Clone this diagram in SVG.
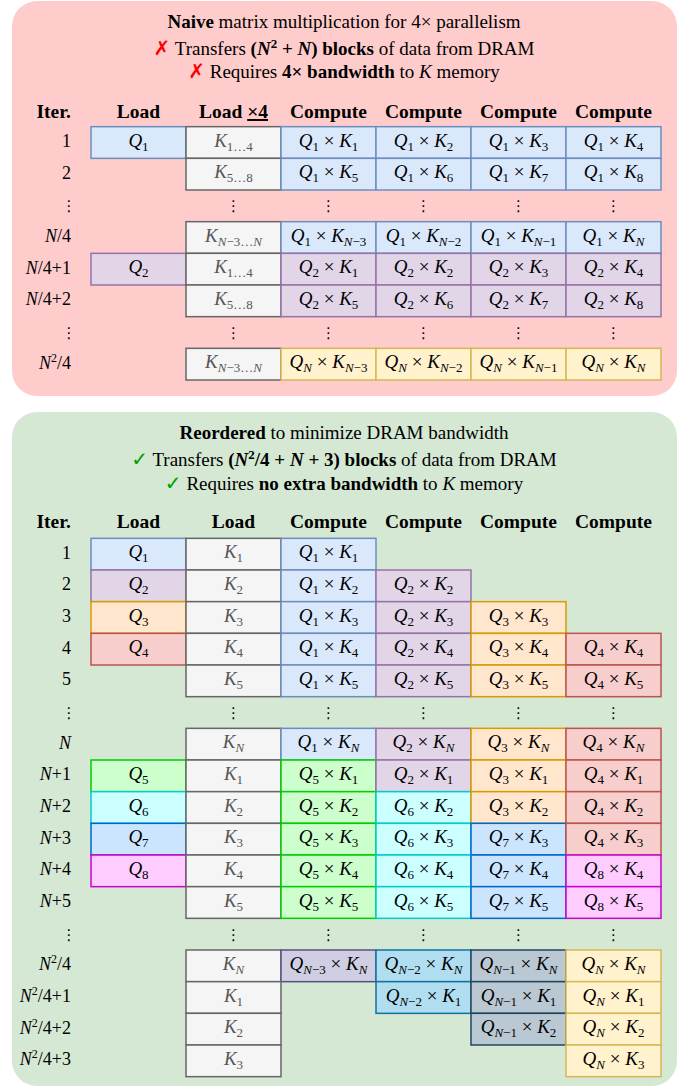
<svg xmlns="http://www.w3.org/2000/svg" width="686" height="1086" viewBox="0 0 686 1086">
<style>
rect.c{stroke-width:1.5}
.blue{fill:#dae8fc;stroke:#6c8ebf}
.pur{fill:#e1d5e7;stroke:#9673a6}
.gray{fill:#f5f5f5;stroke:#666666}
.yel{fill:#fff2cc;stroke:#d6b656}
.ora{fill:#ffe6cc;stroke:#d79b00}
.red{fill:#f8cecc;stroke:#b85450}
.grn{fill:#ccffcc;stroke:#00cc00}
.cya{fill:#ccffff;stroke:#00cccc}
.bl2{fill:#cce5ff;stroke:#0066cc}
.mag{fill:#ffccff;stroke:#cc00cc}
.lav{fill:#d0cee2;stroke:#56517e}
.sky{fill:#b1ddf0;stroke:#10739e}
.slt{fill:#bac8d3;stroke:#23445d}
text{font-family:"Liberation Serif",serif;fill:#000}
.t{font-size:19px;text-anchor:middle}
.k{fill:#555555}
.i{font-style:italic}
.s{font-size:13px}
.lb{font-size:18px;text-anchor:end}
.h{font-size:19.5px;font-weight:bold;text-anchor:middle}
.he{font-size:19.5px;font-weight:bold;text-anchor:end}
.ti{font-size:19px;text-anchor:middle}
.b{font-weight:bold}
.d{font-family:"DejaVu Sans",sans-serif;font-size:15px;text-anchor:middle;fill:#000}
.x{fill:#ff0000;font-family:"DejaVu Sans",sans-serif;font-size:20px}
.v{fill:#00a000;font-family:"DejaVu Sans",sans-serif;font-size:20px}
</style>

<!-- ===================== NAIVE PANEL ===================== -->
<g id="naive-panel">
<rect x="12" y="1" width="665" height="395" rx="25" fill="#ffcccc"/>
<text class="ti" x="344" y="28"><tspan class="b">Naive</tspan> matrix multiplication for 4× parallelism</text>
<text class="ti" x="344" y="55"><tspan class="x">✗</tspan> Transfers <tspan class="b">(<tspan class="i">N</tspan><tspan dy="-7" font-size="13">2</tspan><tspan dy="7"> + </tspan><tspan class="i">N</tspan>) blocks</tspan> of data from DRAM</text>
<text class="ti" x="344" y="78"><tspan class="x">✗</tspan> Requires <tspan class="b">4× bandwidth</tspan> to <tspan class="i">K</tspan> memory</text>
</g>

<g id="naive-header">
<text class="he" x="71" y="118">Iter.</text>
<text class="h" x="138.5" y="118">Load</text>
<text class="h" x="233.5" y="118">Load <tspan text-decoration="underline">×4</tspan></text>
<text class="h" x="328.5" y="118">Compute</text>
<text class="h" x="423.5" y="118">Compute</text>
<text class="h" x="518.5" y="118">Compute</text>
<text class="h" x="613.5" y="118">Compute</text>
</g>

<g id="naive-iter">
<text class="lb" x="71" y="147">1</text>
<text class="lb" x="71" y="178.6">2</text>
<text class="d" x="69" y="211">⋮</text>
<text class="lb" x="71" y="242"><tspan class="i">N</tspan>/4</text>
<text class="lb" x="71" y="273.6"><tspan class="i">N</tspan>/4+1</text>
<text class="lb" x="71" y="305.3"><tspan class="i">N</tspan>/4+2</text>
<text class="d" x="69" y="338">⋮</text>
<text class="lb" x="71" y="368.6"><tspan class="i">N</tspan><tspan dy="-7" font-size="12">2</tspan><tspan dy="7">/4</tspan></text>
</g>

<!-- row 1 -->
<g id="n-r1-q"><rect class="c blue" x="91" y="126.67" width="95" height="31.67"/><text class="t" x="138.5" y="146.7"><tspan class="i">Q</tspan><tspan class="s" dy="4">1</tspan></text></g>
<g id="n-r1-k"><rect class="c gray" x="186" y="126.67" width="95" height="31.67"/><text class="t k" x="233.5" y="146.7"><tspan class="i">K</tspan><tspan class="s" dy="4">1…4</tspan></text></g>
<g id="n-r1-c1"><rect class="c blue" x="281" y="126.67" width="95" height="31.67"/><text class="t" x="328.5" y="146.7"><tspan class="i">Q</tspan><tspan class="s" dy="4">1</tspan><tspan dy="-4"> × </tspan><tspan class="i">K</tspan><tspan class="s" dy="4">1</tspan></text></g>
<g id="n-r1-c2"><rect class="c blue" x="376" y="126.67" width="95" height="31.67"/><text class="t" x="423.5" y="146.7"><tspan class="i">Q</tspan><tspan class="s" dy="4">1</tspan><tspan dy="-4"> × </tspan><tspan class="i">K</tspan><tspan class="s" dy="4">2</tspan></text></g>
<g id="n-r1-c3"><rect class="c blue" x="471" y="126.67" width="95" height="31.67"/><text class="t" x="518.5" y="146.7"><tspan class="i">Q</tspan><tspan class="s" dy="4">1</tspan><tspan dy="-4"> × </tspan><tspan class="i">K</tspan><tspan class="s" dy="4">3</tspan></text></g>
<g id="n-r1-c4"><rect class="c blue" x="566" y="126.67" width="95" height="31.67"/><text class="t" x="613.5" y="146.7"><tspan class="i">Q</tspan><tspan class="s" dy="4">1</tspan><tspan dy="-4"> × </tspan><tspan class="i">K</tspan><tspan class="s" dy="4">4</tspan></text></g>
<!-- row 2 -->
<g id="n-r2-k"><rect class="c gray" x="186" y="158.33" width="95" height="31.67"/><text class="t k" x="233.5" y="178.3"><tspan class="i">K</tspan><tspan class="s" dy="4">5…8</tspan></text></g>
<g id="n-r2-c1"><rect class="c blue" x="281" y="158.33" width="95" height="31.67"/><text class="t" x="328.5" y="178.3"><tspan class="i">Q</tspan><tspan class="s" dy="4">1</tspan><tspan dy="-4"> × </tspan><tspan class="i">K</tspan><tspan class="s" dy="4">5</tspan></text></g>
<g id="n-r2-c2"><rect class="c blue" x="376" y="158.33" width="95" height="31.67"/><text class="t" x="423.5" y="178.3"><tspan class="i">Q</tspan><tspan class="s" dy="4">1</tspan><tspan dy="-4"> × </tspan><tspan class="i">K</tspan><tspan class="s" dy="4">6</tspan></text></g>
<g id="n-r2-c3"><rect class="c blue" x="471" y="158.33" width="95" height="31.67"/><text class="t" x="518.5" y="178.3"><tspan class="i">Q</tspan><tspan class="s" dy="4">1</tspan><tspan dy="-4"> × </tspan><tspan class="i">K</tspan><tspan class="s" dy="4">7</tspan></text></g>
<g id="n-r2-c4"><rect class="c blue" x="566" y="158.33" width="95" height="31.67"/><text class="t" x="613.5" y="178.3"><tspan class="i">Q</tspan><tspan class="s" dy="4">1</tspan><tspan dy="-4"> × </tspan><tspan class="i">K</tspan><tspan class="s" dy="4">8</tspan></text></g>
<!-- dots -->
<g id="n-dots1">
<text class="d" x="233.5" y="211">⋮</text><text class="d" x="328.5" y="211">⋮</text><text class="d" x="423.5" y="211">⋮</text><text class="d" x="518.5" y="211">⋮</text><text class="d" x="613.5" y="211">⋮</text>
</g>
<!-- row N/4 -->
<g id="n-r3-k"><rect class="c gray" x="186" y="221.67" width="95" height="31.67"/><text class="t k" x="233.5" y="241.7"><tspan class="i">K</tspan><tspan class="s" dy="4"><tspan class="i">N</tspan>−3…<tspan class="i">N</tspan></tspan></text></g>
<g id="n-r3-c1"><rect class="c blue" x="281" y="221.67" width="95" height="31.67"/><text class="t" x="328.5" y="241.7"><tspan class="i">Q</tspan><tspan class="s" dy="4">1</tspan><tspan dy="-4"> × </tspan><tspan class="i">K</tspan><tspan class="s" dy="4"><tspan class="i">N</tspan>−3</tspan></text></g>
<g id="n-r3-c2"><rect class="c blue" x="376" y="221.67" width="95" height="31.67"/><text class="t" x="423.5" y="241.7"><tspan class="i">Q</tspan><tspan class="s" dy="4">1</tspan><tspan dy="-4"> × </tspan><tspan class="i">K</tspan><tspan class="s" dy="4"><tspan class="i">N</tspan>−2</tspan></text></g>
<g id="n-r3-c3"><rect class="c blue" x="471" y="221.67" width="95" height="31.67"/><text class="t" x="518.5" y="241.7"><tspan class="i">Q</tspan><tspan class="s" dy="4">1</tspan><tspan dy="-4"> × </tspan><tspan class="i">K</tspan><tspan class="s" dy="4"><tspan class="i">N</tspan>−1</tspan></text></g>
<g id="n-r3-c4"><rect class="c blue" x="566" y="221.67" width="95" height="31.67"/><text class="t" x="613.5" y="241.7"><tspan class="i">Q</tspan><tspan class="s" dy="4">1</tspan><tspan dy="-4"> × </tspan><tspan class="i">K</tspan><tspan class="s i" dy="4">N</tspan></text></g>
<!-- row N/4+1 -->
<g id="n-r4-q"><rect class="c pur" x="91" y="253.33" width="95" height="31.67"/><text class="t" x="138.5" y="273.3"><tspan class="i">Q</tspan><tspan class="s" dy="4">2</tspan></text></g>
<g id="n-r4-k"><rect class="c gray" x="186" y="253.33" width="95" height="31.67"/><text class="t k" x="233.5" y="273.3"><tspan class="i">K</tspan><tspan class="s" dy="4">1…4</tspan></text></g>
<g id="n-r4-c1"><rect class="c pur" x="281" y="253.33" width="95" height="31.67"/><text class="t" x="328.5" y="273.3"><tspan class="i">Q</tspan><tspan class="s" dy="4">2</tspan><tspan dy="-4"> × </tspan><tspan class="i">K</tspan><tspan class="s" dy="4">1</tspan></text></g>
<g id="n-r4-c2"><rect class="c pur" x="376" y="253.33" width="95" height="31.67"/><text class="t" x="423.5" y="273.3"><tspan class="i">Q</tspan><tspan class="s" dy="4">2</tspan><tspan dy="-4"> × </tspan><tspan class="i">K</tspan><tspan class="s" dy="4">2</tspan></text></g>
<g id="n-r4-c3"><rect class="c pur" x="471" y="253.33" width="95" height="31.67"/><text class="t" x="518.5" y="273.3"><tspan class="i">Q</tspan><tspan class="s" dy="4">2</tspan><tspan dy="-4"> × </tspan><tspan class="i">K</tspan><tspan class="s" dy="4">3</tspan></text></g>
<g id="n-r4-c4"><rect class="c pur" x="566" y="253.33" width="95" height="31.67"/><text class="t" x="613.5" y="273.3"><tspan class="i">Q</tspan><tspan class="s" dy="4">2</tspan><tspan dy="-4"> × </tspan><tspan class="i">K</tspan><tspan class="s" dy="4">4</tspan></text></g>
<!-- row N/4+2 -->
<g id="n-r5-k"><rect class="c gray" x="186" y="285" width="95" height="31.67"/><text class="t k" x="233.5" y="305"><tspan class="i">K</tspan><tspan class="s" dy="4">5…8</tspan></text></g>
<g id="n-r5-c1"><rect class="c pur" x="281" y="285" width="95" height="31.67"/><text class="t" x="328.5" y="305"><tspan class="i">Q</tspan><tspan class="s" dy="4">2</tspan><tspan dy="-4"> × </tspan><tspan class="i">K</tspan><tspan class="s" dy="4">5</tspan></text></g>
<g id="n-r5-c2"><rect class="c pur" x="376" y="285" width="95" height="31.67"/><text class="t" x="423.5" y="305"><tspan class="i">Q</tspan><tspan class="s" dy="4">2</tspan><tspan dy="-4"> × </tspan><tspan class="i">K</tspan><tspan class="s" dy="4">6</tspan></text></g>
<g id="n-r5-c3"><rect class="c pur" x="471" y="285" width="95" height="31.67"/><text class="t" x="518.5" y="305"><tspan class="i">Q</tspan><tspan class="s" dy="4">2</tspan><tspan dy="-4"> × </tspan><tspan class="i">K</tspan><tspan class="s" dy="4">7</tspan></text></g>
<g id="n-r5-c4"><rect class="c pur" x="566" y="285" width="95" height="31.67"/><text class="t" x="613.5" y="305"><tspan class="i">Q</tspan><tspan class="s" dy="4">2</tspan><tspan dy="-4"> × </tspan><tspan class="i">K</tspan><tspan class="s" dy="4">8</tspan></text></g>
<!-- dots -->
<g id="n-dots2">
<text class="d" x="233.5" y="338">⋮</text><text class="d" x="328.5" y="338">⋮</text><text class="d" x="423.5" y="338">⋮</text><text class="d" x="518.5" y="338">⋮</text><text class="d" x="613.5" y="338">⋮</text>
</g>
<!-- row N^2/4 -->
<g id="n-r7-k"><rect class="c gray" x="186" y="348.33" width="95" height="31.67"/><text class="t k" x="233.5" y="368.3"><tspan class="i">K</tspan><tspan class="s" dy="4"><tspan class="i">N</tspan>−3…<tspan class="i">N</tspan></tspan></text></g>
<g id="n-r7-c1"><rect class="c yel" x="281" y="348.33" width="95" height="31.67"/><text class="t" x="328.5" y="368.3"><tspan class="i">Q</tspan><tspan class="s i" dy="4">N</tspan><tspan dy="-4"> × </tspan><tspan class="i">K</tspan><tspan class="s" dy="4"><tspan class="i">N</tspan>−3</tspan></text></g>
<g id="n-r7-c2"><rect class="c yel" x="376" y="348.33" width="95" height="31.67"/><text class="t" x="423.5" y="368.3"><tspan class="i">Q</tspan><tspan class="s i" dy="4">N</tspan><tspan dy="-4"> × </tspan><tspan class="i">K</tspan><tspan class="s" dy="4"><tspan class="i">N</tspan>−2</tspan></text></g>
<g id="n-r7-c3"><rect class="c yel" x="471" y="348.33" width="95" height="31.67"/><text class="t" x="518.5" y="368.3"><tspan class="i">Q</tspan><tspan class="s i" dy="4">N</tspan><tspan dy="-4"> × </tspan><tspan class="i">K</tspan><tspan class="s" dy="4"><tspan class="i">N</tspan>−1</tspan></text></g>
<g id="n-r7-c4"><rect class="c yel" x="566" y="348.33" width="95" height="31.67"/><text class="t" x="613.5" y="368.3"><tspan class="i">Q</tspan><tspan class="s i" dy="4">N</tspan><tspan dy="-4"> × </tspan><tspan class="i">K</tspan><tspan class="s i" dy="4">N</tspan></text></g>

<!-- ===================== REORDERED PANEL ===================== -->
<g id="reordered-panel">
<rect x="12" y="412" width="665" height="674" rx="25" fill="#d5e8d4"/>
<text class="ti" x="344" y="439"><tspan class="b">Reordered</tspan> to minimize DRAM bandwidth</text>
<text class="ti" x="344" y="466"><tspan class="v">✓</tspan> Transfers <tspan class="b">(<tspan class="i">N</tspan><tspan dy="-7" font-size="13">2</tspan><tspan dy="7">/4 + </tspan><tspan class="i">N</tspan> + 3) blocks</tspan> of data from DRAM</text>
<text class="ti" x="344" y="490"><tspan class="v">✓</tspan> Requires <tspan class="b">no extra bandwidth</tspan> to <tspan class="i">K</tspan> memory</text>
</g>

<g id="reordered-header">
<text class="he" x="71" y="528">Iter.</text>
<text class="h" x="138.5" y="528">Load</text>
<text class="h" x="233.5" y="528">Load</text>
<text class="h" x="328.5" y="528">Compute</text>
<text class="h" x="423.5" y="528">Compute</text>
<text class="h" x="518.5" y="528">Compute</text>
<text class="h" x="613.5" y="528">Compute</text>
</g>

<g id="reordered-iter">
<text class="lb" x="71" y="558.6">1</text>
<text class="lb" x="71" y="590.3">2</text>
<text class="lb" x="71" y="622">3</text>
<text class="lb" x="71" y="653.6">4</text>
<text class="lb" x="71" y="685.3">5</text>
<text class="d" x="69" y="718">⋮</text>
<text class="lb" x="71" y="748.6"><tspan class="i">N</tspan></text>
<text class="lb" x="71" y="780.3"><tspan class="i">N</tspan>+1</text>
<text class="lb" x="71" y="812"><tspan class="i">N</tspan>+2</text>
<text class="lb" x="71" y="843.6"><tspan class="i">N</tspan>+3</text>
<text class="lb" x="71" y="875.3"><tspan class="i">N</tspan>+4</text>
<text class="lb" x="71" y="907"><tspan class="i">N</tspan>+5</text>
<text class="d" x="69" y="939.5">⋮</text>
<text class="lb" x="71" y="970.3"><tspan class="i">N</tspan><tspan dy="-7" font-size="12">2</tspan><tspan dy="7">/4</tspan></text>
<text class="lb" x="71" y="1002"><tspan class="i">N</tspan><tspan dy="-7" font-size="12">2</tspan><tspan dy="7">/4+1</tspan></text>
<text class="lb" x="71" y="1033.6"><tspan class="i">N</tspan><tspan dy="-7" font-size="12">2</tspan><tspan dy="7">/4+2</tspan></text>
<text class="lb" x="71" y="1065.3"><tspan class="i">N</tspan><tspan dy="-7" font-size="12">2</tspan><tspan dy="7">/4+3</tspan></text>
</g>

<!-- r1 -->
<g id="r-r1-q"><rect class="c blue" x="91" y="538.33" width="95" height="31.67"/><text class="t" x="138.5" y="558.3"><tspan class="i">Q</tspan><tspan class="s" dy="4">1</tspan></text></g>
<g id="r-r1-k"><rect class="c gray" x="186" y="538.33" width="95" height="31.67"/><text class="t k" x="233.5" y="558.3"><tspan class="i">K</tspan><tspan class="s" dy="4">1</tspan></text></g>
<g id="r-r1-c1"><rect class="c blue" x="281" y="538.33" width="95" height="31.67"/><text class="t" x="328.5" y="558.3"><tspan class="i">Q</tspan><tspan class="s" dy="4">1</tspan><tspan dy="-4"> × </tspan><tspan class="i">K</tspan><tspan class="s" dy="4">1</tspan></text></g>
<!-- r2 -->
<g id="r-r2-q"><rect class="c pur" x="91" y="570" width="95" height="31.67"/><text class="t" x="138.5" y="590"><tspan class="i">Q</tspan><tspan class="s" dy="4">2</tspan></text></g>
<g id="r-r2-k"><rect class="c gray" x="186" y="570" width="95" height="31.67"/><text class="t k" x="233.5" y="590"><tspan class="i">K</tspan><tspan class="s" dy="4">2</tspan></text></g>
<g id="r-r2-c1"><rect class="c blue" x="281" y="570" width="95" height="31.67"/><text class="t" x="328.5" y="590"><tspan class="i">Q</tspan><tspan class="s" dy="4">1</tspan><tspan dy="-4"> × </tspan><tspan class="i">K</tspan><tspan class="s" dy="4">2</tspan></text></g>
<g id="r-r2-c2"><rect class="c pur" x="376" y="570" width="95" height="31.67"/><text class="t" x="423.5" y="590"><tspan class="i">Q</tspan><tspan class="s" dy="4">2</tspan><tspan dy="-4"> × </tspan><tspan class="i">K</tspan><tspan class="s" dy="4">2</tspan></text></g>
<!-- r3 -->
<g id="r-r3-q"><rect class="c ora" x="91" y="601.67" width="95" height="31.67"/><text class="t" x="138.5" y="621.7"><tspan class="i">Q</tspan><tspan class="s" dy="4">3</tspan></text></g>
<g id="r-r3-k"><rect class="c gray" x="186" y="601.67" width="95" height="31.67"/><text class="t k" x="233.5" y="621.7"><tspan class="i">K</tspan><tspan class="s" dy="4">3</tspan></text></g>
<g id="r-r3-c1"><rect class="c blue" x="281" y="601.67" width="95" height="31.67"/><text class="t" x="328.5" y="621.7"><tspan class="i">Q</tspan><tspan class="s" dy="4">1</tspan><tspan dy="-4"> × </tspan><tspan class="i">K</tspan><tspan class="s" dy="4">3</tspan></text></g>
<g id="r-r3-c2"><rect class="c pur" x="376" y="601.67" width="95" height="31.67"/><text class="t" x="423.5" y="621.7"><tspan class="i">Q</tspan><tspan class="s" dy="4">2</tspan><tspan dy="-4"> × </tspan><tspan class="i">K</tspan><tspan class="s" dy="4">3</tspan></text></g>
<g id="r-r3-c3"><rect class="c ora" x="471" y="601.67" width="95" height="31.67"/><text class="t" x="518.5" y="621.7"><tspan class="i">Q</tspan><tspan class="s" dy="4">3</tspan><tspan dy="-4"> × </tspan><tspan class="i">K</tspan><tspan class="s" dy="4">3</tspan></text></g>
<!-- r4 -->
<g id="r-r4-q"><rect class="c red" x="91" y="633.33" width="95" height="31.67"/><text class="t" x="138.5" y="653.3"><tspan class="i">Q</tspan><tspan class="s" dy="4">4</tspan></text></g>
<g id="r-r4-k"><rect class="c gray" x="186" y="633.33" width="95" height="31.67"/><text class="t k" x="233.5" y="653.3"><tspan class="i">K</tspan><tspan class="s" dy="4">4</tspan></text></g>
<g id="r-r4-c1"><rect class="c blue" x="281" y="633.33" width="95" height="31.67"/><text class="t" x="328.5" y="653.3"><tspan class="i">Q</tspan><tspan class="s" dy="4">1</tspan><tspan dy="-4"> × </tspan><tspan class="i">K</tspan><tspan class="s" dy="4">4</tspan></text></g>
<g id="r-r4-c2"><rect class="c pur" x="376" y="633.33" width="95" height="31.67"/><text class="t" x="423.5" y="653.3"><tspan class="i">Q</tspan><tspan class="s" dy="4">2</tspan><tspan dy="-4"> × </tspan><tspan class="i">K</tspan><tspan class="s" dy="4">4</tspan></text></g>
<g id="r-r4-c3"><rect class="c ora" x="471" y="633.33" width="95" height="31.67"/><text class="t" x="518.5" y="653.3"><tspan class="i">Q</tspan><tspan class="s" dy="4">3</tspan><tspan dy="-4"> × </tspan><tspan class="i">K</tspan><tspan class="s" dy="4">4</tspan></text></g>
<g id="r-r4-c4"><rect class="c red" x="566" y="633.33" width="95" height="31.67"/><text class="t" x="613.5" y="653.3"><tspan class="i">Q</tspan><tspan class="s" dy="4">4</tspan><tspan dy="-4"> × </tspan><tspan class="i">K</tspan><tspan class="s" dy="4">4</tspan></text></g>
<!-- r5 -->
<g id="r-r5-k"><rect class="c gray" x="186" y="665" width="95" height="31.67"/><text class="t k" x="233.5" y="685"><tspan class="i">K</tspan><tspan class="s" dy="4">5</tspan></text></g>
<g id="r-r5-c1"><rect class="c blue" x="281" y="665" width="95" height="31.67"/><text class="t" x="328.5" y="685"><tspan class="i">Q</tspan><tspan class="s" dy="4">1</tspan><tspan dy="-4"> × </tspan><tspan class="i">K</tspan><tspan class="s" dy="4">5</tspan></text></g>
<g id="r-r5-c2"><rect class="c pur" x="376" y="665" width="95" height="31.67"/><text class="t" x="423.5" y="685"><tspan class="i">Q</tspan><tspan class="s" dy="4">2</tspan><tspan dy="-4"> × </tspan><tspan class="i">K</tspan><tspan class="s" dy="4">5</tspan></text></g>
<g id="r-r5-c3"><rect class="c ora" x="471" y="665" width="95" height="31.67"/><text class="t" x="518.5" y="685"><tspan class="i">Q</tspan><tspan class="s" dy="4">3</tspan><tspan dy="-4"> × </tspan><tspan class="i">K</tspan><tspan class="s" dy="4">5</tspan></text></g>
<g id="r-r5-c4"><rect class="c red" x="566" y="665" width="95" height="31.67"/><text class="t" x="613.5" y="685"><tspan class="i">Q</tspan><tspan class="s" dy="4">4</tspan><tspan dy="-4"> × </tspan><tspan class="i">K</tspan><tspan class="s" dy="4">5</tspan></text></g>
<!-- dots -->
<g id="r-dots1">
<text class="d" x="233.5" y="718">⋮</text><text class="d" x="328.5" y="718">⋮</text><text class="d" x="423.5" y="718">⋮</text><text class="d" x="518.5" y="718">⋮</text><text class="d" x="613.5" y="718">⋮</text>
</g>
<!-- rN -->
<g id="r-rN-k"><rect class="c gray" x="186" y="728.33" width="95" height="31.67"/><text class="t k" x="233.5" y="748.3"><tspan class="i">K</tspan><tspan class="s i" dy="4">N</tspan></text></g>
<g id="r-rN-c1"><rect class="c blue" x="281" y="728.33" width="95" height="31.67"/><text class="t" x="328.5" y="748.3"><tspan class="i">Q</tspan><tspan class="s" dy="4">1</tspan><tspan dy="-4"> × </tspan><tspan class="i">K</tspan><tspan class="s i" dy="4">N</tspan></text></g>
<g id="r-rN-c2"><rect class="c pur" x="376" y="728.33" width="95" height="31.67"/><text class="t" x="423.5" y="748.3"><tspan class="i">Q</tspan><tspan class="s" dy="4">2</tspan><tspan dy="-4"> × </tspan><tspan class="i">K</tspan><tspan class="s i" dy="4">N</tspan></text></g>
<g id="r-rN-c3"><rect class="c ora" x="471" y="728.33" width="95" height="31.67"/><text class="t" x="518.5" y="748.3"><tspan class="i">Q</tspan><tspan class="s" dy="4">3</tspan><tspan dy="-4"> × </tspan><tspan class="i">K</tspan><tspan class="s i" dy="4">N</tspan></text></g>
<g id="r-rN-c4"><rect class="c red" x="566" y="728.33" width="95" height="31.67"/><text class="t" x="613.5" y="748.3"><tspan class="i">Q</tspan><tspan class="s" dy="4">4</tspan><tspan dy="-4"> × </tspan><tspan class="i">K</tspan><tspan class="s i" dy="4">N</tspan></text></g>
<!-- rN+1 -->
<g id="r-rN1-q"><rect class="c grn" x="91" y="760" width="95" height="31.67"/><text class="t" x="138.5" y="780"><tspan class="i">Q</tspan><tspan class="s" dy="4">5</tspan></text></g>
<g id="r-rN1-k"><rect class="c gray" x="186" y="760" width="95" height="31.67"/><text class="t k" x="233.5" y="780"><tspan class="i">K</tspan><tspan class="s" dy="4">1</tspan></text></g>
<g id="r-rN1-c1"><rect class="c grn" x="281" y="760" width="95" height="31.67"/><text class="t" x="328.5" y="780"><tspan class="i">Q</tspan><tspan class="s" dy="4">5</tspan><tspan dy="-4"> × </tspan><tspan class="i">K</tspan><tspan class="s" dy="4">1</tspan></text></g>
<g id="r-rN1-c2"><rect class="c pur" x="376" y="760" width="95" height="31.67"/><text class="t" x="423.5" y="780"><tspan class="i">Q</tspan><tspan class="s" dy="4">2</tspan><tspan dy="-4"> × </tspan><tspan class="i">K</tspan><tspan class="s" dy="4">1</tspan></text></g>
<g id="r-rN1-c3"><rect class="c ora" x="471" y="760" width="95" height="31.67"/><text class="t" x="518.5" y="780"><tspan class="i">Q</tspan><tspan class="s" dy="4">3</tspan><tspan dy="-4"> × </tspan><tspan class="i">K</tspan><tspan class="s" dy="4">1</tspan></text></g>
<g id="r-rN1-c4"><rect class="c red" x="566" y="760" width="95" height="31.67"/><text class="t" x="613.5" y="780"><tspan class="i">Q</tspan><tspan class="s" dy="4">4</tspan><tspan dy="-4"> × </tspan><tspan class="i">K</tspan><tspan class="s" dy="4">1</tspan></text></g>
<!-- rN+2 -->
<g id="r-rN2-q"><rect class="c cya" x="91" y="791.67" width="95" height="31.67"/><text class="t" x="138.5" y="811.7"><tspan class="i">Q</tspan><tspan class="s" dy="4">6</tspan></text></g>
<g id="r-rN2-k"><rect class="c gray" x="186" y="791.67" width="95" height="31.67"/><text class="t k" x="233.5" y="811.7"><tspan class="i">K</tspan><tspan class="s" dy="4">2</tspan></text></g>
<g id="r-rN2-c1"><rect class="c grn" x="281" y="791.67" width="95" height="31.67"/><text class="t" x="328.5" y="811.7"><tspan class="i">Q</tspan><tspan class="s" dy="4">5</tspan><tspan dy="-4"> × </tspan><tspan class="i">K</tspan><tspan class="s" dy="4">2</tspan></text></g>
<g id="r-rN2-c2"><rect class="c cya" x="376" y="791.67" width="95" height="31.67"/><text class="t" x="423.5" y="811.7"><tspan class="i">Q</tspan><tspan class="s" dy="4">6</tspan><tspan dy="-4"> × </tspan><tspan class="i">K</tspan><tspan class="s" dy="4">2</tspan></text></g>
<g id="r-rN2-c3"><rect class="c ora" x="471" y="791.67" width="95" height="31.67"/><text class="t" x="518.5" y="811.7"><tspan class="i">Q</tspan><tspan class="s" dy="4">3</tspan><tspan dy="-4"> × </tspan><tspan class="i">K</tspan><tspan class="s" dy="4">2</tspan></text></g>
<g id="r-rN2-c4"><rect class="c red" x="566" y="791.67" width="95" height="31.67"/><text class="t" x="613.5" y="811.7"><tspan class="i">Q</tspan><tspan class="s" dy="4">4</tspan><tspan dy="-4"> × </tspan><tspan class="i">K</tspan><tspan class="s" dy="4">2</tspan></text></g>
<!-- rN+3 -->
<g id="r-rN3-q"><rect class="c bl2" x="91" y="823.33" width="95" height="31.67"/><text class="t" x="138.5" y="843.3"><tspan class="i">Q</tspan><tspan class="s" dy="4">7</tspan></text></g>
<g id="r-rN3-k"><rect class="c gray" x="186" y="823.33" width="95" height="31.67"/><text class="t k" x="233.5" y="843.3"><tspan class="i">K</tspan><tspan class="s" dy="4">3</tspan></text></g>
<g id="r-rN3-c1"><rect class="c grn" x="281" y="823.33" width="95" height="31.67"/><text class="t" x="328.5" y="843.3"><tspan class="i">Q</tspan><tspan class="s" dy="4">5</tspan><tspan dy="-4"> × </tspan><tspan class="i">K</tspan><tspan class="s" dy="4">3</tspan></text></g>
<g id="r-rN3-c2"><rect class="c cya" x="376" y="823.33" width="95" height="31.67"/><text class="t" x="423.5" y="843.3"><tspan class="i">Q</tspan><tspan class="s" dy="4">6</tspan><tspan dy="-4"> × </tspan><tspan class="i">K</tspan><tspan class="s" dy="4">3</tspan></text></g>
<g id="r-rN3-c3"><rect class="c bl2" x="471" y="823.33" width="95" height="31.67"/><text class="t" x="518.5" y="843.3"><tspan class="i">Q</tspan><tspan class="s" dy="4">7</tspan><tspan dy="-4"> × </tspan><tspan class="i">K</tspan><tspan class="s" dy="4">3</tspan></text></g>
<g id="r-rN3-c4"><rect class="c red" x="566" y="823.33" width="95" height="31.67"/><text class="t" x="613.5" y="843.3"><tspan class="i">Q</tspan><tspan class="s" dy="4">4</tspan><tspan dy="-4"> × </tspan><tspan class="i">K</tspan><tspan class="s" dy="4">3</tspan></text></g>
<!-- rN+4 -->
<g id="r-rN4-q"><rect class="c mag" x="91" y="855" width="95" height="31.67"/><text class="t" x="138.5" y="875"><tspan class="i">Q</tspan><tspan class="s" dy="4">8</tspan></text></g>
<g id="r-rN4-k"><rect class="c gray" x="186" y="855" width="95" height="31.67"/><text class="t k" x="233.5" y="875"><tspan class="i">K</tspan><tspan class="s" dy="4">4</tspan></text></g>
<g id="r-rN4-c1"><rect class="c grn" x="281" y="855" width="95" height="31.67"/><text class="t" x="328.5" y="875"><tspan class="i">Q</tspan><tspan class="s" dy="4">5</tspan><tspan dy="-4"> × </tspan><tspan class="i">K</tspan><tspan class="s" dy="4">4</tspan></text></g>
<g id="r-rN4-c2"><rect class="c cya" x="376" y="855" width="95" height="31.67"/><text class="t" x="423.5" y="875"><tspan class="i">Q</tspan><tspan class="s" dy="4">6</tspan><tspan dy="-4"> × </tspan><tspan class="i">K</tspan><tspan class="s" dy="4">4</tspan></text></g>
<g id="r-rN4-c3"><rect class="c bl2" x="471" y="855" width="95" height="31.67"/><text class="t" x="518.5" y="875"><tspan class="i">Q</tspan><tspan class="s" dy="4">7</tspan><tspan dy="-4"> × </tspan><tspan class="i">K</tspan><tspan class="s" dy="4">4</tspan></text></g>
<g id="r-rN4-c4"><rect class="c mag" x="566" y="855" width="95" height="31.67"/><text class="t" x="613.5" y="875"><tspan class="i">Q</tspan><tspan class="s" dy="4">8</tspan><tspan dy="-4"> × </tspan><tspan class="i">K</tspan><tspan class="s" dy="4">4</tspan></text></g>
<!-- rN+5 -->
<g id="r-rN5-k"><rect class="c gray" x="186" y="886.67" width="95" height="31.67"/><text class="t k" x="233.5" y="906.7"><tspan class="i">K</tspan><tspan class="s" dy="4">5</tspan></text></g>
<g id="r-rN5-c1"><rect class="c grn" x="281" y="886.67" width="95" height="31.67"/><text class="t" x="328.5" y="906.7"><tspan class="i">Q</tspan><tspan class="s" dy="4">5</tspan><tspan dy="-4"> × </tspan><tspan class="i">K</tspan><tspan class="s" dy="4">5</tspan></text></g>
<g id="r-rN5-c2"><rect class="c cya" x="376" y="886.67" width="95" height="31.67"/><text class="t" x="423.5" y="906.7"><tspan class="i">Q</tspan><tspan class="s" dy="4">6</tspan><tspan dy="-4"> × </tspan><tspan class="i">K</tspan><tspan class="s" dy="4">5</tspan></text></g>
<g id="r-rN5-c3"><rect class="c bl2" x="471" y="886.67" width="95" height="31.67"/><text class="t" x="518.5" y="906.7"><tspan class="i">Q</tspan><tspan class="s" dy="4">7</tspan><tspan dy="-4"> × </tspan><tspan class="i">K</tspan><tspan class="s" dy="4">5</tspan></text></g>
<g id="r-rN5-c4"><rect class="c mag" x="566" y="886.67" width="95" height="31.67"/><text class="t" x="613.5" y="906.7"><tspan class="i">Q</tspan><tspan class="s" dy="4">8</tspan><tspan dy="-4"> × </tspan><tspan class="i">K</tspan><tspan class="s" dy="4">5</tspan></text></g>
<!-- dots -->
<g id="r-dots2">
<text class="d" x="233.5" y="939.5">⋮</text><text class="d" x="328.5" y="939.5">⋮</text><text class="d" x="423.5" y="939.5">⋮</text><text class="d" x="518.5" y="939.5">⋮</text><text class="d" x="613.5" y="939.5">⋮</text>
</g>
<!-- r N^2/4 -->
<g id="r-rM-k"><rect class="c gray" x="186" y="950" width="95" height="31.67"/><text class="t k" x="233.5" y="970"><tspan class="i">K</tspan><tspan class="s i" dy="4">N</tspan></text></g>
<g id="r-rM-c1"><rect class="c lav" x="281" y="950" width="95" height="31.67"/><text class="t" x="328.5" y="970"><tspan class="i">Q</tspan><tspan class="s" dy="4"><tspan class="i">N</tspan>−3</tspan><tspan dy="-4"> × </tspan><tspan class="i">K</tspan><tspan class="s i" dy="4">N</tspan></text></g>
<g id="r-rM-c2"><rect class="c sky" x="376" y="950" width="95" height="31.67"/><text class="t" x="423.5" y="970"><tspan class="i">Q</tspan><tspan class="s" dy="4"><tspan class="i">N</tspan>−2</tspan><tspan dy="-4"> × </tspan><tspan class="i">K</tspan><tspan class="s i" dy="4">N</tspan></text></g>
<g id="r-rM-c3"><rect class="c slt" x="471" y="950" width="95" height="31.67"/><text class="t" x="518.5" y="970"><tspan class="i">Q</tspan><tspan class="s" dy="4"><tspan class="i">N</tspan>−1</tspan><tspan dy="-4"> × </tspan><tspan class="i">K</tspan><tspan class="s i" dy="4">N</tspan></text></g>
<g id="r-rM-c4"><rect class="c yel" x="566" y="950" width="95" height="31.67"/><text class="t" x="613.5" y="970"><tspan class="i">Q</tspan><tspan class="s i" dy="4">N</tspan><tspan dy="-4"> × </tspan><tspan class="i">K</tspan><tspan class="s i" dy="4">N</tspan></text></g>
<!-- r N^2/4+1 -->
<g id="r-rM1-k"><rect class="c gray" x="186" y="981.67" width="95" height="31.67"/><text class="t k" x="233.5" y="1001.7"><tspan class="i">K</tspan><tspan class="s" dy="4">1</tspan></text></g>
<g id="r-rM1-c2"><rect class="c sky" x="376" y="981.67" width="95" height="31.67"/><text class="t" x="423.5" y="1001.7"><tspan class="i">Q</tspan><tspan class="s" dy="4"><tspan class="i">N</tspan>−2</tspan><tspan dy="-4"> × </tspan><tspan class="i">K</tspan><tspan class="s" dy="4">1</tspan></text></g>
<g id="r-rM1-c3"><rect class="c slt" x="471" y="981.67" width="95" height="31.67"/><text class="t" x="518.5" y="1001.7"><tspan class="i">Q</tspan><tspan class="s" dy="4"><tspan class="i">N</tspan>−1</tspan><tspan dy="-4"> × </tspan><tspan class="i">K</tspan><tspan class="s" dy="4">1</tspan></text></g>
<g id="r-rM1-c4"><rect class="c yel" x="566" y="981.67" width="95" height="31.67"/><text class="t" x="613.5" y="1001.7"><tspan class="i">Q</tspan><tspan class="s i" dy="4">N</tspan><tspan dy="-4"> × </tspan><tspan class="i">K</tspan><tspan class="s" dy="4">1</tspan></text></g>
<!-- r N^2/4+2 -->
<g id="r-rM2-k"><rect class="c gray" x="186" y="1013.33" width="95" height="31.67"/><text class="t k" x="233.5" y="1033.3"><tspan class="i">K</tspan><tspan class="s" dy="4">2</tspan></text></g>
<g id="r-rM2-c3"><rect class="c slt" x="471" y="1013.33" width="95" height="31.67"/><text class="t" x="518.5" y="1033.3"><tspan class="i">Q</tspan><tspan class="s" dy="4"><tspan class="i">N</tspan>−1</tspan><tspan dy="-4"> × </tspan><tspan class="i">K</tspan><tspan class="s" dy="4">2</tspan></text></g>
<g id="r-rM2-c4"><rect class="c yel" x="566" y="1013.33" width="95" height="31.67"/><text class="t" x="613.5" y="1033.3"><tspan class="i">Q</tspan><tspan class="s i" dy="4">N</tspan><tspan dy="-4"> × </tspan><tspan class="i">K</tspan><tspan class="s" dy="4">2</tspan></text></g>
<!-- r N^2/4+3 -->
<g id="r-rM3-k"><rect class="c gray" x="186" y="1045" width="95" height="31.67"/><text class="t k" x="233.5" y="1065"><tspan class="i">K</tspan><tspan class="s" dy="4">3</tspan></text></g>
<g id="r-rM3-c4"><rect class="c yel" x="566" y="1045" width="95" height="31.67"/><text class="t" x="613.5" y="1065"><tspan class="i">Q</tspan><tspan class="s i" dy="4">N</tspan><tspan dy="-4"> × </tspan><tspan class="i">K</tspan><tspan class="s" dy="4">3</tspan></text></g>

<g id="connectors"></g>
</svg>
